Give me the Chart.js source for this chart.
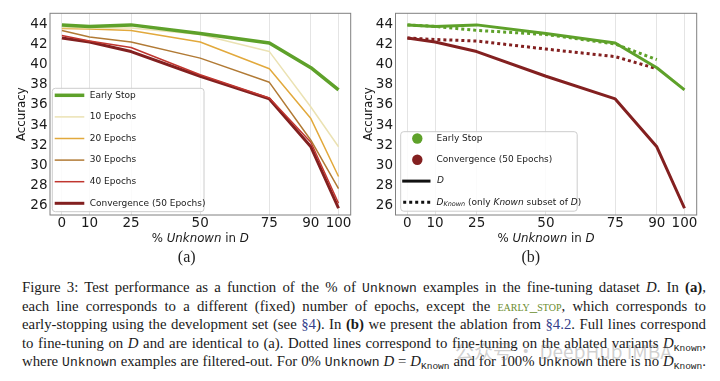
<!DOCTYPE html>
<html><head><meta charset="utf-8">
<script src="https://cdn.jsdelivr.net/npm/chart.js@4.4.1/dist/chart.umd.min.js"></script>
<style>
html,body{margin:0;padding:0;background:#fff;}
#wrap{position:relative;width:720px;height:381px;overflow:hidden;background:#fff;}
canvas{position:absolute;top:0;}
.xt{position:absolute;font-family:"DejaVu Sans";font-size:11.8px;color:#1a1a1a;white-space:nowrap;transform:translate(-50%,-50%);}
.pl{position:absolute;font-family:"Liberation Serif";font-size:16px;color:#222;transform:translate(-50%,-50%);}
#cap{position:absolute;left:22px;top:278px;width:684px;font-family:"Liberation Serif";font-size:14.8px;color:#1a1a1a;}
#cap div{height:18.5px;line-height:18.5px;text-align:justify;text-align-last:justify;white-space:nowrap;}
#cap tt{font-family:"Liberation Mono";font-size:13px;}
#cap sub{font-size:10px;vertical-align:-3px;line-height:0;}
#cap sub tt{font-size:9.5px;}
.sc{font-variant:small-caps;color:#6b8c2e;}
.ref{color:#34408a;}
#wm{position:absolute;left:455px;top:337px;font-family:"Noto Sans CJK SC","DejaVu Sans";font-size:19px;color:rgba(130,130,130,0.38);white-space:nowrap;}
</style></head>
<body>
<div id="wrap">
<canvas id="ca" width="360" height="270" style="left:0"></canvas>
<canvas id="cb" width="360" height="270" style="left:360px"></canvas>
<div class="xt" style="left:200.3px;top:238.3px">% <i>Unknown</i> in <i>D</i></div>
<div class="xt" style="left:546px;top:238.3px">% <i>Unknown</i> in <i>D</i></div>
<div class="pl" style="left:186.7px;top:257px">(a)</div>
<div class="pl" style="left:530.8px;top:257px">(b)</div>
<div id="cap">
<div>Figure 3: Test performance as a function of the % of <tt>Unknown</tt> examples in the fine-tuning dataset <i>D</i>. In <b>(a)</b>,</div>
<div>each line corresponds to a different (fixed) number of epochs, except the <span class="sc">early_stop</span>, which corresponds to</div>
<div>early-stopping using the development set (see <span class="ref">§4</span>). In <b>(b)</b> we present the ablation from <span class="ref">§4.2</span>. Full lines correspond</div>
<div>to fine-tuning on <i>D</i> and are identical to (a). Dotted lines correspond to fine-tuning on the ablated variants <i>D</i><sub><tt>Known</tt></sub>,</div>
<div>where <tt>Unknown</tt> examples are filtered-out. For 0% <tt>Unknown</tt> <i>D</i> = <i>D</i><sub><tt>Known</tt></sub> and for 100% <tt>Unknown</tt> there is no <i>D</i><sub><tt>Known</tt></sub>.</div>
</div>
<div id="wm">公众号 · DeepHub IMBA</div>
</div>
<script>
// ---- data ----
const xVals = [0, 10, 25, 50, 75, 90, 100];
const xTicks = [0, 10, 25, 50, 75, 90, 100];
const yTicks = [26, 28, 30, 32, 34, 36, 38, 40, 42, 44];
const earlyStop = [43.95, 43.8, 43.95, 43.1, 42.15, 39.7, 37.5];
const epochs10 = [43.7, 43.65, 43.65, 43.0, 41.3, 35.8, 31.85];
const epochs20 = [43.6, 43.55, 43.4, 42.25, 39.6, 34.65, 28.9];
const epochs30 = [43.4, 42.75, 42.25, 40.65, 38.25, 32.5, 27.7];
const epochs40 = [42.9, 42.35, 41.7, 39.0, 36.7, 32.3, 26.25];
const convergence = [42.65, 42.25, 41.3, 38.85, 36.6, 31.85, 25.75];
const earlyStopKnown = [43.95, 43.8, 43.4, 43.0, 42.05, 40.5];
const convergenceKnown = [42.65, 42.5, 42.35, 41.55, 40.8, 39.6];
const labelsA = ['Early Stop', '10 Epochs', '20 Epochs', '30 Epochs', '40 Epochs', 'Convergence (50 Epochs)'];

const C = {green:'#5ea12a', e10:'#ebe2b3', e20:'#e2a93c', e30:'#b17a35', e40:'#c0362f', conv:'#832020'};
Chart.defaults.font.family = 'DejaVu Sans';
Chart.defaults.color = '#1a1a1a';

const pts = arr => arr.map((y, i) => ({x: xVals[i], y}));
function ds(label, arr, color, w, dash) {
  return {label, data: pts(arr), borderColor: color, backgroundColor: color, borderWidth: w,
    borderDash: dash || [], pointRadius: 0, tension: 0, fill: false,
    borderJoinStyle: 'round', borderCapStyle: 'butt'};
}
function opts(cfg) {
  return {
    responsive: false, animation: false, events: [],
    layout: {padding: {left: 0, top: 13.3, right: cfg.right, bottom: 0}},
    plugins: {legend: {display: false}, tooltip: {enabled: false}},
    scales: {
      x: {type: 'linear', min: -4.3, max: 104.4,
        afterFit: s => { s.height = 55; },
        afterBuildTicks: s => { s.ticks = xTicks.map(v => ({value: v})); },
        grid: {display: true, color: '#e4e4e4', lineWidth: 1, drawTicks: false},
        border: {display: false},
        ticks: {autoSkip: false, maxRotation: 0, padding: 0.5, color: '#1a1a1a', font: {size: 13.5}}},
      y: {min: 25.08, max: 45.1,
        afterFit: s => { s.width = cfg.yw; },
        afterBuildTicks: s => { s.ticks = yTicks.map(v => ({value: v})); },
        grid: {display: false, drawTicks: false}, border: {display: false},
        ticks: {padding: 2.5, color: '#1a1a1a', font: {size: 13.5}},
        title: {display: true, text: 'Accuracy', color: '#1a1a1a', font: {size: 11.8}, padding: {top: cfg.tp, bottom: 0}}}
    }
  };
}
const frame = {id: 'frame', afterDatasetsDraw(chart) {
  const {ctx, chartArea: a} = chart;
  ctx.save(); ctx.strokeStyle = '#808080'; ctx.lineWidth = 1;
  ctx.strokeRect(a.left, a.top, a.right - a.left, a.bottom - a.top); ctx.restore();
}};
function box(ctx, x, y, w, h) {
  ctx.save(); ctx.beginPath(); ctx.roundRect(x, y, w, h, 3);
  ctx.fillStyle = 'rgba(255,255,255,0.85)'; ctx.fill();
  ctx.strokeStyle = '#cccccc'; ctx.lineWidth = 1; ctx.stroke(); ctx.restore();
}
function rich(ctx, x, y, parts) {
  let cx = x;
  for (const p of parts) { ctx.font = p.f; ctx.fillText(p.t, cx, y + (p.dy || 0)); cx += ctx.measureText(p.t).width; }
}
const N = '9px "DejaVu Sans"', I = 'italic 9px "DejaVu Sans"', IS = 'italic 6.5px "DejaVu Sans"';

const legendA = {id: 'legA', afterDraw(chart) {
  const ctx = chart.ctx, a = chart.chartArea;
  const bx = a.left + 2.3, by = 88.3;
  box(ctx, bx, by, 151.7, 123.4);
  ctx.save(); ctx.textBaseline = 'middle'; ctx.fillStyle = '#1a1a1a';
  chart.data.datasets.forEach((d, i) => {
    const y = by + 7 + i * 21.6;
    ctx.beginPath(); ctx.strokeStyle = d.borderColor; ctx.lineWidth = d.borderWidth; ctx.lineCap = 'butt';
    ctx.moveTo(bx + 2.4, y); ctx.lineTo(bx + 32, y); ctx.stroke();
    ctx.font = N; ctx.fillText(d.label, bx + 37.4, y);
  });
  ctx.restore();
}};
const legendB = {id: 'legB', afterDraw(chart) {
  const ctx = chart.ctx, a = chart.chartArea;
  const bx = a.left + 5.2, by = 131.7;
  box(ctx, bx, by, 176.5, 79.5);
  const dsets = chart.data.datasets;
  ctx.save(); ctx.textBaseline = 'middle'; ctx.fillStyle = '#1a1a1a';
  const ys = [by + 6.8, by + 28.1, by + 49.4, by + 70.6];
  [dsets[0], dsets[1]].forEach((d, i) => {
    ctx.beginPath(); ctx.fillStyle = d.borderColor; ctx.arc(bx + 16.6, ys[i], 5.2, 0, Math.PI * 2); ctx.fill();
  });
  ctx.fillStyle = '#1a1a1a';
  ctx.font = N; ctx.fillText(dsets[0].label, bx + 35.8, ys[0]); ctx.fillText(dsets[1].label, bx + 35.8, ys[1]);
  ctx.strokeStyle = '#111'; ctx.lineWidth = 3;
  ctx.beginPath(); ctx.moveTo(bx + 1.5, ys[2]); ctx.lineTo(bx + 29.8, ys[2]); ctx.stroke();
  ctx.setLineDash([3, 3]);
  ctx.beginPath(); ctx.moveTo(bx + 2.5, ys[3]); ctx.lineTo(bx + 29.8, ys[3]); ctx.stroke();
  ctx.setLineDash([]);
  rich(ctx, bx + 36.2, ys[2], [{t: 'D', f: I}]);
  rich(ctx, bx + 35.8, ys[3], [{t: 'D', f: I}, {t: 'Known', f: IS, dy: 2}, {t: ' (only ', f: N}, {t: 'Known', f: I},
    {t: ' subset of ', f: N}, {t: 'D', f: I}, {t: ')', f: N}]);
  ctx.restore();
}};

new Chart(document.getElementById('ca'), {
  type: 'line',
  data: {datasets: [
    ds(labelsA[0], earlyStop, C.green, 3.5),
    ds(labelsA[1], epochs10, C.e10, 1.5),
    ds(labelsA[2], epochs20, C.e20, 1.5),
    ds(labelsA[3], epochs30, C.e30, 1.5),
    ds(labelsA[4], epochs40, C.e40, 1.5),
    ds(labelsA[5], convergence, C.conv, 3)
  ]},
  options: opts({right: 9.3, yw: 50, tp: 14.8}),
  plugins: [frame, legendA]
});
new Chart(document.getElementById('cb'), {
  type: 'line',
  data: {datasets: [
    ds(labelsA[0], earlyStop, C.green, 3),
    ds(labelsA[5], convergence, C.conv, 3),
    ds(labelsA[0] + ' (Known)', earlyStopKnown, C.green, 3, [3, 3]),
    ds(labelsA[5] + ' (Known)', convergenceKnown, C.conv, 3, [3, 3])
  ]},
  options: opts({right: 23.3, yw: 35.5, tp: 1.8}),
  plugins: [frame, legendB]
});
</script>
</body></html>
